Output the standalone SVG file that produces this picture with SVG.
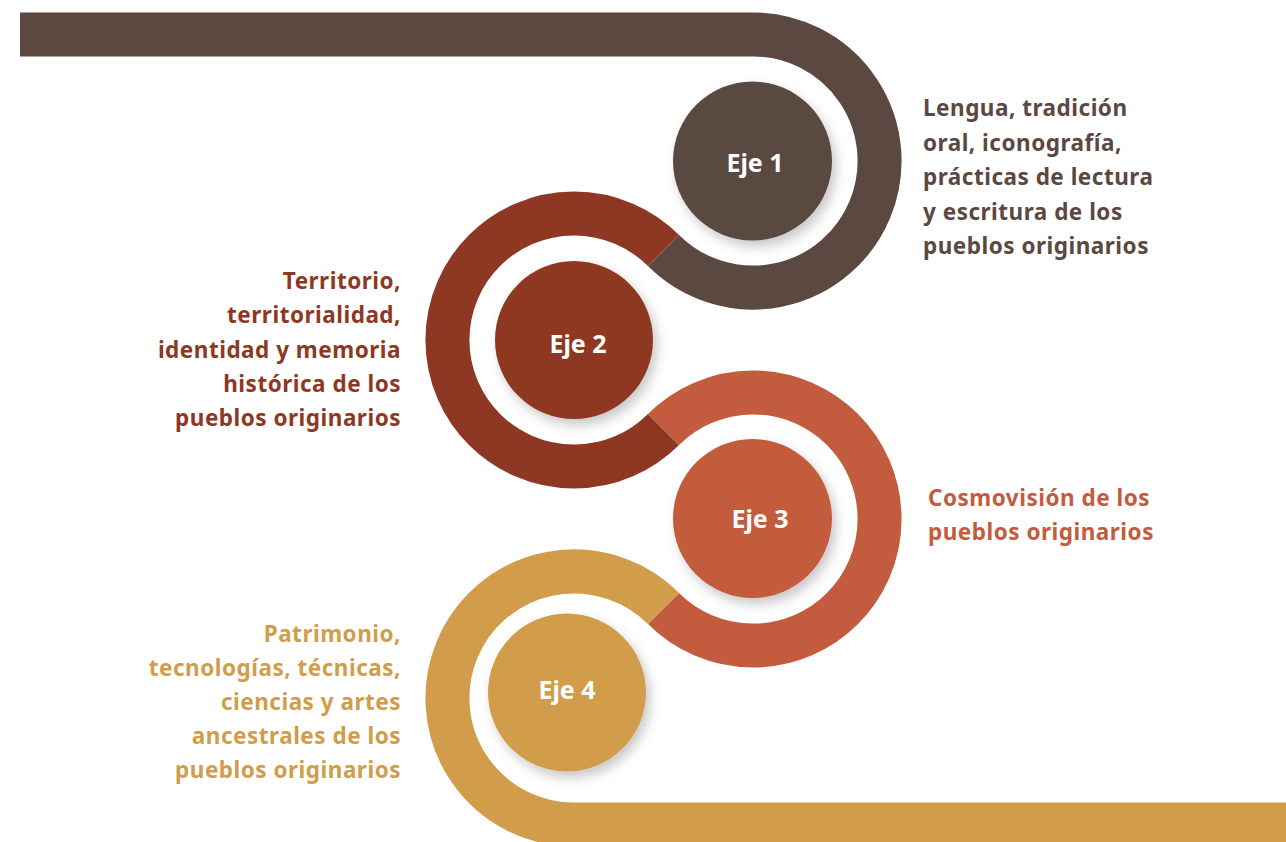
<svg xmlns="http://www.w3.org/2000/svg" width="1286" height="842" viewBox="0 0 1286 842">
  <style>
    .band { fill: none; stroke-width: 44; stroke-linecap: butt; }
    .lbl { font-family: "Noto Sans", "Liberation Sans", sans-serif; font-weight: 700; font-size: 25px; fill: #ffffff; text-anchor: middle; }
    .desc { font-family: "Noto Sans", "Liberation Sans", sans-serif; font-weight: 700; font-size: 22.5px; letter-spacing: 0.5px; }
    .c1 { fill: #5A4841; } .s1 { stroke: #5A4841; }
    .c2 { fill: #8E3823; } .s2 { stroke: #8E3823; }
    .c3 { fill: #C35C3E; } .s3 { stroke: #C35C3E; }
    .c4 { fill: #D19D4B; } .s4 { stroke: #D19D4B; }
  </style>
  <defs>
    <filter id="shadow" x="-30%" y="-30%" width="160%" height="160%">
      <feDropShadow dx="4" dy="6" stdDeviation="6" flood-color="#000" flood-opacity="0.22"/>
    </filter>
  </defs>
  <rect width="1286" height="842" fill="#ffffff"/>

  <g id="connectors">
    <path class="band s1" d="M 20 34.43 H 753 A 126.57 126.57 0 1 1 663.5 250.5"/>
    <path class="band s2" d="M 663.5 250.5 A 126.57 126.57 0 1 0 663.5 429.5"/>
    <path class="band s3" d="M 663.5 429.5 A 126.57 126.57 0 1 1 663.5 608.5"/>
    <path class="band s4" d="M 663.5 608.5 A 126.57 126.57 0 1 0 574 824.57 H 1290"/>
  </g>

  <g id="eje1">
    <circle class="c1" cx="752.5" cy="161" r="79.5" filter="url(#shadow)"/>
    <text class="lbl" x="755" y="172">Eje 1</text>
    <text class="desc c1"><tspan x="923" y="116">Lengua, tradición</tspan><tspan x="923" y="150.5">oral, iconografía,</tspan><tspan x="923" y="185">prácticas de lectura</tspan><tspan x="923" y="219.5">y escritura de los</tspan><tspan x="923" y="254">pueblos originarios</tspan></text>
  </g>

  <g id="eje2">
    <circle class="c2" cx="574" cy="340" r="79" filter="url(#shadow)"/>
    <text class="lbl" x="578" y="353">Eje 2</text>
    <text class="desc c2" text-anchor="end"><tspan x="401" y="289">Territorio,</tspan><tspan x="401" y="323">territorialidad,</tspan><tspan x="401" y="358">identidad y memoria</tspan><tspan x="401" y="392">histórica de los</tspan><tspan x="401" y="426">pueblos originarios</tspan></text>
  </g>

  <g id="eje3">
    <circle class="c3" cx="752.5" cy="518.5" r="79.5" filter="url(#shadow)"/>
    <text class="lbl" x="760" y="528">Eje 3</text>
    <text class="desc c3"><tspan x="928" y="506">Cosmovisión de los</tspan><tspan x="928" y="540">pueblos originarios</tspan></text>
  </g>

  <g id="eje4">
    <circle class="c4" cx="567" cy="692.5" r="79" filter="url(#shadow)"/>
    <text class="lbl" x="567" y="699">Eje 4</text>
    <text class="desc c4" text-anchor="end"><tspan x="401" y="642">Patrimonio,</tspan><tspan x="401" y="676">tecnologías, técnicas,</tspan><tspan x="401" y="710">ciencias y artes</tspan><tspan x="401" y="744">ancestrales de los</tspan><tspan x="401" y="778">pueblos originarios</tspan></text>
  </g>
</svg>
